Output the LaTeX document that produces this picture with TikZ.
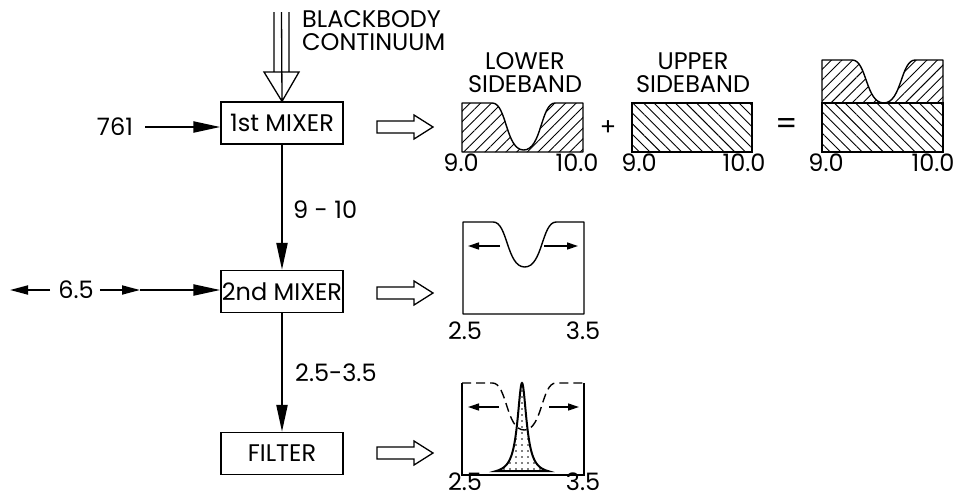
\documentclass[tikz,border=0pt]{standalone}
\usepackage{fontspec}
\setmainfont{Poppins}
\usetikzlibrary{arrows.meta,patterns.meta}
\newcommand\lblfont{\fontsize{24}{26}\selectfont}
% dip-shaped top edge of a spectrum box: x0, width, y of top, y of dip bottom
\newcommand\dippath[4]{(#1,#3) -- ({#1+0.25*#2},#3) .. controls ({#1+0.37*#2},#3) and ({#1+0.36*#2},#4) .. ({#1+0.51*#2},#4) .. controls ({#1+0.66*#2},#4) and ({#1+0.65*#2},#3) .. ({#1+0.77*#2},#3) -- ({#1+#2},#3)}
\tikzset{
  box/.style={draw, line width=1.3pt, minimum width=122pt, minimum height=42pt, inner sep=0pt},
  conn/.style={line width=2.2pt, -{Triangle[length=27pt,width=11pt]}},
  thinconn/.style={line width=1.8pt, -{Triangle[length=18pt,width=9pt]}},
  plotline/.style={line width=1.4pt},
  smallarrow/.style={line width=1.4pt, -{Triangle[length=11pt,width=7pt]}},
  hatchup/.style={pattern={Lines[angle=45,distance=7.5pt,line width=0.9pt]}},
  hatchdown/.style={pattern={Lines[angle=-45,distance=7.5pt,line width=0.9pt]}},
  lbl/.style={inner sep=0pt},
  hollow/.pic={\draw[line width=1.3pt, line join=miter] (0,-6) -- (37,-6) -- (37,-12) -- (56,0) -- (37,12) -- (37,6) -- (0,6) -- cycle;}
}
\begin{document}
\begin{tikzpicture}[x=1pt,y=-1pt,font=\lblfont]
\useasboundingbox (0,0) rectangle (968,499);

% ---- blocks ----
\node[box] (mix1) at (282,123) {1st MIXER};
\node[box] (mix2) at (282,291.5) {2nd MIXER};
\node[box] (filt) at (282,453.5) {FILTER};

% ---- blackbody input ----
\node[lbl, anchor=west, align=left] (bb) at (302,31) {BLACKBODY\\[-3pt]CONTINUUM};
\draw[line width=1.3pt, line join=miter]
  (274,12) -- (274,72) (289,12) -- (289,72) (281.5,12) -- (mix1.north)
  (264,72) -- (299,72) -- (mix1.north) -- cycle;

% ---- inputs ----
\node[lbl] (f761) at (115,127) {761};
\draw[conn] ([xshift=12pt]f761.east) -- (f761.east -| mix1.west);

\node[lbl] (f65) at (76,290) {6.5};
\coordinate (lft) at (10,290);
\coordinate (mid) at (140,290);
\draw[thinconn] ([xshift=-8pt]f65.west) -- (lft);
\draw[thinconn] ([xshift=6pt]f65.east) -- (mid);
\draw[conn] (mid) -- (f65.east -| mix2.west);

% ---- vertical connectors ----
\draw[conn] (mix1) -- (mix2);
\node[lbl, anchor=west] (l910) at (293,210) {9 - 10};
\draw[conn] (mix2) -- (filt);
\node[lbl, anchor=west] (l2535) at (295,373) {2.5-3.5};

% ---- hollow arrows ----
\pic at (377,127) {hollow};
\pic at (377,293) {hollow};
\pic at (377,453) {hollow};

% ---- top row: sidebands ----
\node[lbl, align=center] (lsb) at (525,73) {LOWER\\[-3pt]SIDEBAND};
\fill[hatchup] \dippath{462}{121}{103}{150} -- (583,152) -- (462,152) -- cycle;
\draw[plotline, line join=round] \dippath{462}{121}{103}{150} -- (583,152) -- (462,152) -- cycle;
\node[lbl] (a90) at (461,163) {9.0};
\node[lbl] (a100) at (577,163) {10.0};

\node[lbl] (plus) at (608,128) {+};

\node[lbl, align=center] (usb) at (693,73) {UPPER\\[-3pt]SIDEBAND};
\draw[plotline, hatchdown] (632,103) rectangle (752,152);
\node[lbl] (b90) at (639,163) {9.0};
\node[lbl] (b100) at (744,163) {10.0};

\node[lbl, scale=1.3] (eq) at (787,127) {=};

\fill[hatchup] \dippath{822}{121}{60}{103} -- (943,103) -- (822,103) -- cycle;
\draw[plotline, line join=round] \dippath{822}{121}{60}{103} -- (943,103) -- (822,103) -- cycle;
\draw[plotline, hatchdown] (822,103) rectangle (943,152);
\node[lbl] (c90) at (826,163) {9.0};
\node[lbl] (c100) at (933,163) {10.0};

% ---- middle plot ----
\draw[plotline, line join=round] \dippath{463}{121}{222}{267} -- (584,314) -- (463,314) -- cycle;
\draw[smallarrow] (500,246) -- (468,246);
\draw[smallarrow] (544,246) -- (578,246);
\node[lbl] (d25) at (465,331) {2.5};
\node[lbl] (d35) at (583,331) {3.5};

% ---- filter plot ----
\draw[plotline] (462,383) -- (462,475) -- (584,475) -- (584,383);
\draw[plotline, dash pattern=on 9pt off 5pt] \dippath{462}{122}{383}{430};
\draw[line width=2pt, pattern={Dots[distance=6pt,radius=0.8pt]}]
  plot[domain=496:548, samples=161, smooth] (\x, {475 - 92/(1+((\x-522)/5.5)^2)}) -- cycle;
\draw[smallarrow] (499,407) -- (468,407);
\draw[smallarrow] (549,407) -- (579,407);
\node[lbl, anchor=base] (e25) at (465,490) {2.5};
\node[lbl, anchor=base] (e35) at (583,490) {3.5};
\end{tikzpicture}
\end{document}
